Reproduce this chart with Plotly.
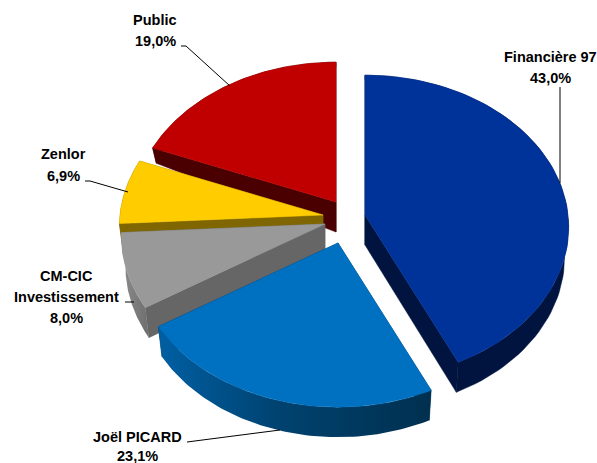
import numpy as np
import plotly.graph_objects as go

# ---- data ----
names = ["Financière 97", "Joël PICARD", "CM-CIC Investissement", "Zenlor", "Public"]
shares = [43.0, 23.1, 8.0, 6.9, 19.0]
label_lines = [["Financière 97", "43,0%"], ["Joël PICARD", "23,1%"],
               ["CM-CIC", "Investissement", "8,0%"], ["Zenlor", "6,9%"], ["Public", "19,0%"]]

# ---- styles ----
top_colors = ["#003399", "#0070C0", "#999999", "#FFCC00", "#C00000"]
wall_colors = ["#00143F", "#003A63", "#6E6E6E", "#7F6600", "#4A0000"]

# ---- layout of the exploded 3D pie ----
apex_x = [365, 338, 325, 323, 336]
apex_y = [215, 243, 224, 215, 202]
RX, RY, PERSP = 203, 151, 0.08
DEPTH, BOTTOM_SCALE = 30, 0.98
draw_order = [4, 3, 2, 1, 0]

label_x = [550, 137, 66, 63, 155]
label_y = [[57, 78], [437, 456], [276, 297, 318], [154, 176], [20, 41]]
leader_x = [[560, 560], [187, 195, 280], [125, 134], [85, 90, 128], [181, 186, 230]]
leader_y = [[87, 183], [442, 441, 430], [302, 302], [181, 181, 192], [46, 46, 86]]


def top_pt(i, th):
    s, c = np.sin(th), np.cos(th)
    f = 1 / (1 + PERSP * c)
    return apex_x[i] + RX * s * f, apex_y[i] - RY * c * f


def low_pt(i, th):
    x, y = top_pt(i, th)
    c = np.cos(th)
    return apex_x[i] + (x - apex_x[i]) * BOTTOM_SCALE, y + np.maximum(DEPTH - 40 * np.maximum(c, 0), 5)


fig = go.Figure()
edges = np.cumsum([0] + shares) / sum(shares) * 2 * np.pi


def poly(xs, ys, color, name, **kw):
    fig.add_trace(go.Scatter(x=list(xs), y=list(ys), mode="lines", fill="toself",
                             fillcolor=color, line=dict(width=0.5, color=color),
                             name=name, hoverinfo="name", showlegend=False, **kw))


for i in draw_order:
    th = np.linspace(edges[i], edges[i + 1], 80)
    tx, ty = top_pt(i, th)
    lx, ly = low_pt(i, th)
    ax, ay = apex_x[i], apex_y[i]
    # radial walls
    for e in (th[0], th[-1]):
        t = top_pt(i, e)
        l = low_pt(i, e)
        poly([ax, t[0], l[0], ax, ax], [ay, t[1], l[1], ay + DEPTH, ay],
             "#666666" if i == 2 else wall_colors[i], names[i])
    # outer wall
    wx = np.r_[tx, lx[::-1], tx[0]]
    wy = np.r_[ty, ly[::-1], ty[0]]
    if i == 1:
        fig.add_trace(go.Scatter(x=wx, y=wy, mode="lines", fill="toself", line=dict(width=0),
                                 fillgradient=dict(type="horizontal",
                                                   colorscale=[[0, "#005FA3"], [0.45, "#00426F"], [1, "#00304F"]]),
                                 name=names[i], hoverinfo="name", showlegend=False))
    elif i == 2:
        fig.add_trace(go.Scatter(x=wx, y=wy, mode="lines", fill="toself", line=dict(width=0),
                                 fillgradient=dict(type="horizontal",
                                                   colorscale=[[0, "#8C8C8C"], [1, "#6E6E6E"]]),
                                 name=names[i], hoverinfo="name", showlegend=False))
    else:
        poly(wx, wy, wall_colors[i], names[i])
    # top face
    poly(np.r_[ax, tx, ax], np.r_[ay, ty, ay], top_colors[i], names[i])

for xs, ys in zip(leader_x, leader_y):
    fig.add_trace(go.Scatter(x=xs, y=ys, mode="lines", line=dict(color="#000000", width=1),
                             hoverinfo="skip", showlegend=False))

for lines, cx, ys in zip(label_lines, label_x, label_y):
    for txt, y in zip(lines, ys):
        fig.add_annotation(x=cx, y=y, text=f"<b>{txt}</b>", showarrow=False, xanchor="center",
                           yanchor="middle", font=dict(family="Liberation Sans", size=14.5, color="#000000"))

fig.update_layout(width=597, height=463, margin=dict(l=0, r=0, t=0, b=0), autosize=False,
                  paper_bgcolor="white", plot_bgcolor="white",
                  xaxis=dict(range=[0, 597], visible=False, fixedrange=True),
                  yaxis=dict(range=[463, 0], visible=False, fixedrange=True))
fig.write_html("out.html", config=dict(displayModeBar=False),
               post_script="document.body.style.margin='0';document.body.style.overflow='hidden';")
